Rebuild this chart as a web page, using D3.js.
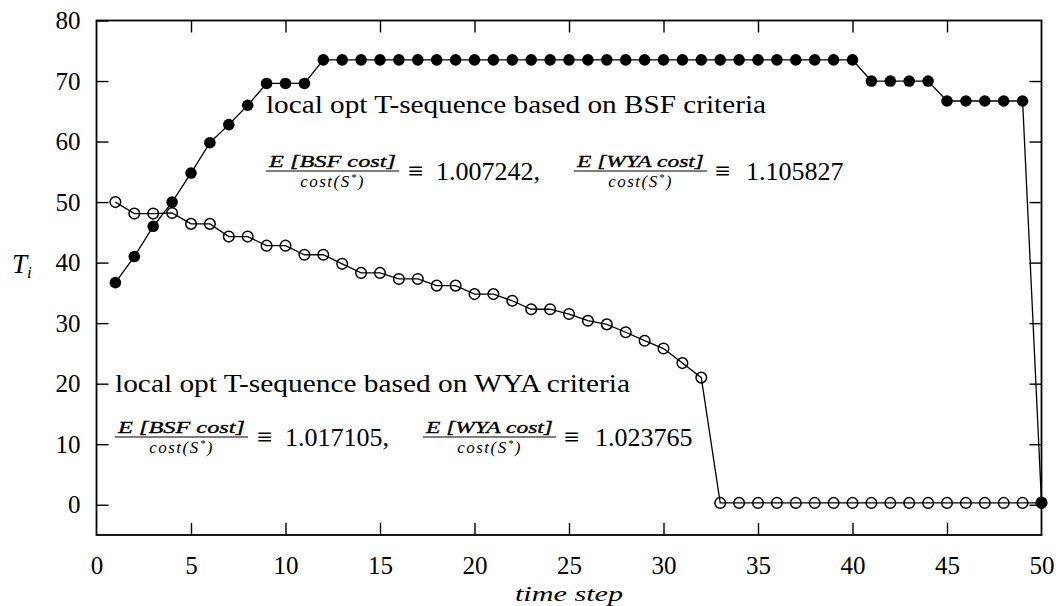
<!DOCTYPE html>
<html><head><meta charset="utf-8">
<script src="https://cdn.jsdelivr.net/npm/d3@7"></script>
<style>body{margin:0;background:#fff} svg{display:block}</style>
</head><body>
<svg id="c" width="1056" height="606"></svg>
<script>
const timeSteps = [1,2,3,4,5,6,7,8,9,10,11,12,13,14,15,16,17,18,19,20,21,22,23,24,25,
  26,27,28,29,30,31,32,33,34,35,36,37,38,39,40,41,42,43,44,45,46,47,48,49,50];
const bsfSeq = [36.7,41.0,46.0,50.0,54.8,59.8,62.8,66.0,69.6,69.6,69.6,
  73.5,73.5,73.5,73.5,73.5,73.5,73.5,73.5,73.5,73.5,73.5,73.5,73.5,73.5,73.5,
  73.5,73.5,73.5,73.5,73.5,73.5,73.5,73.5,73.5,73.5,73.5,73.5,73.5,73.5,
  70.0,70.0,70.0,70.0,66.7,66.7,66.7,66.7,66.7,0.4];
const wyaSeq = [50.0,48.1,48.1,48.2,46.4,46.4,44.3,44.3,42.8,42.8,41.3,41.3,39.8,38.3,38.3,
  37.3,37.3,36.2,36.2,34.8,34.8,33.7,32.3,32.3,31.5,30.4,29.8,28.5,27.1,25.8,23.4,21.0,
  0.3,0.3,0.3,0.3,0.3,0.3,0.3,0.3,0.3,0.3,0.3,0.3,0.3,0.3,0.3,0.3,0.3,0.3];
const xTickValues = [0,5,10,15,20,25,30,35,40,45,50];
const yTickValues = [0,10,20,30,40,50,60,70,80];
const bsfTitle = "local opt T-sequence based on BSF criteria";
const wyaTitle = "local opt T-sequence based on WYA criteria";
const numerators = ["E [BSF  cost]", "E [WYA  cost]"];
const bsfRatios = ["1.007242,", "1.105827"];
const wyaRatios = ["1.017105,", "1.023765"];

const svg = d3.select("#c");
const FONT = "'Liberation Serif','Times New Roman',serif";
const x = d3.scaleLinear().domain([0, 50]).range([96.5, 1041.5]);
const y = d3.scaleLinear().domain([-5, 80]).range([535, 20.5]);

svg.append("rect").attr("width", 1056).attr("height", 606).attr("fill", "#fff");

// axes
const inner = xTickValues.filter(v => v > 0 && v < 50);
const axB = svg.append("g").attr("transform", `translate(0,${y(-5)})`)
  .call(d3.axisBottom(x).tickValues(xTickValues).tickSize(-12).tickSizeOuter(0).tickPadding(21));
const axT = svg.append("g").attr("transform", `translate(0,${y(80)})`)
  .call(d3.axisTop(x).tickValues(inner).tickSize(-12).tickSizeOuter(0).tickFormat(""));
const axL = svg.append("g").attr("transform", `translate(${x(0)},0)`)
  .call(d3.axisLeft(y).tickValues(yTickValues).tickSize(-12).tickSizeOuter(0).tickPadding(16));
const axR = svg.append("g").attr("transform", `translate(${x(50)},0)`)
  .call(d3.axisRight(y).tickValues(yTickValues.filter(v => v < 80)).tickSize(-12).tickSizeOuter(0).tickFormat(""));
[axB, axT, axL, axR].forEach(g => {
  g.select(".domain").remove();
  g.selectAll(".tick line").attr("stroke", "#000").attr("stroke-width", 1.4);
  g.selectAll("text").attr("fill", "#000").style("font-family", FONT).style("font-size", "25px");
});
axB.selectAll(".tick").filter(d => d === 0 || d === 50).select("line").remove();

svg.append("rect").attr("x", x(0)).attr("y", y(80))
  .attr("width", x(50) - x(0)).attr("height", y(-5) - y(80))
  .attr("fill", "none").attr("stroke", "#000").attr("stroke-width", 1.8);

// series
const wyaData = timeSteps.map((t, i) => ({t, v: wyaSeq[i]}));
const bsfData = timeSteps.map((t, i) => ({t, v: bsfSeq[i]}));
const line = d3.line().x(d => x(d.t)).y(d => y(d.v));
svg.append("path").datum(wyaData).attr("d", line).attr("fill", "none").attr("stroke", "#000").attr("stroke-width", 1.3);
svg.append("path").datum(bsfData).attr("d", line).attr("fill", "none").attr("stroke", "#000").attr("stroke-width", 1.3);
svg.append("g").selectAll("circle").data(wyaData).join("circle")
  .attr("cx", d => x(d.t)).attr("cy", d => y(d.v)).attr("r", 5.3)
  .attr("fill", "none").attr("stroke", "#000").attr("stroke-width", 1.5);
svg.append("g").selectAll("circle").data(bsfData).join("circle")
  .attr("cx", d => x(d.t)).attr("cy", d => y(d.v)).attr("r", 5.8)
  .attr("fill", "#000");

// annotations
function title(str, x0, base, len) {
  svg.append("text").attr("x", x0).attr("y", base).attr("textLength", len)
    .attr("lengthAdjust", "spacingAndGlyphs")
    .style("font-family", FONT).style("font-size", "25px").text(str);
}
function fraction(num, x0, barY) {
  const w = 133;
  svg.append("line").attr("x1", x0).attr("x2", x0 + w).attr("y1", barY).attr("y2", barY)
    .attr("stroke", "#000").attr("stroke-width", 1.2);
  svg.append("text").attr("x", x0 + 3).attr("y", barY - 4).attr("textLength", w - 6)
    .attr("lengthAdjust", "spacingAndGlyphs")
    .attr("stroke", "#000").attr("stroke-width", 0.35)
    .style("font-family", FONT).style("font-style", "italic")
    .style("font-size", "17px").text(num);
  const den = svg.append("text").attr("x", x0 + w / 2).attr("y", barY + 16)
    .attr("text-anchor", "middle")
    .style("font-family", FONT).style("font-style", "italic").style("font-size", "17px")
    .style("letter-spacing", "1.5px");
  den.append("tspan").text("cost(S");
  den.append("tspan").attr("dy", -6).style("font-size", "11px").text("*");
  den.append("tspan").attr("dy", 6).text(")");
}
function formula(s, barY, vals) {
  fraction(numerators[0], s, barY);
  svg.append("text").attr("x", s + 142).attr("y", barY + 9)
    .style("font-family", FONT).style("font-size", "27px").text("\u2261");
  svg.append("text").attr("x", s + 170).attr("y", barY + 9)
    .style("font-family", FONT).style("font-size", "26px").text(vals[0]);
  fraction(numerators[1], s + 308, barY);
  svg.append("text").attr("x", s + 449).attr("y", barY + 9)
    .style("font-family", FONT).style("font-size", "27px").text("\u2261");
  svg.append("text").attr("x", s + 480).attr("y", barY + 9)
    .style("font-family", FONT).style("font-size", "26px").text(vals[1]);
}
title(bsfTitle, 266, 113, 500);
formula(266, 171, bsfRatios);
title(wyaTitle, 115, 392, 515);
formula(115, 437, wyaRatios);

// axis titles
const ti = svg.append("text").attr("x", 12).attr("y", y(40) + 10)
  .style("font-family", FONT).style("font-style", "italic").style("font-size", "27px");
ti.append("tspan").text("T");
ti.append("tspan").attr("dy", 5).style("font-size", "17px").text("i");
svg.append("text").attr("x", x(25)).attr("y", 601).attr("text-anchor", "middle")
  .attr("textLength", 108).attr("lengthAdjust", "spacingAndGlyphs")
  .style("font-family", FONT).style("font-style", "italic").style("font-size", "22px")
  .text("time step");
</script>
</body></html>
